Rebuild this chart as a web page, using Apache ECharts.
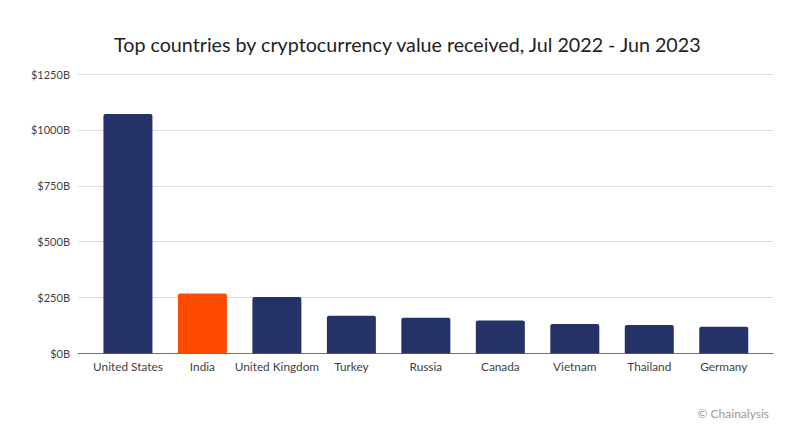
<!DOCTYPE html>
<html>
<head>
<meta charset="utf-8">
<title>Top countries by cryptocurrency value received</title>
<script src="https://cdn.jsdelivr.net/npm/echarts@6/dist/echarts.min.js"></script>
<style>
  html, body { margin: 0; padding: 0; background: #fff; }
  #chart { width: 809px; height: 446px; }
</style>
</head>
<body>
<div id="chart"></div>
<script>
const countries = ['United States', 'India', 'United Kingdom', 'Turkey', 'Russia', 'Canada', 'Vietnam', 'Thailand', 'Germany'];
const received = [1071, 268, 253, 169, 160, 148, 132, 127, 120]; // $ billions
const highlighted = 'India';

const navy = '#253268';
const orange = '#ff4b00';
const textColor = '#3f3f3f';
const font = 'Lato';

const chart = echarts.init(document.getElementById('chart'), null, { renderer: 'svg' });

chart.setOption({
  backgroundColor: '#ffffff',
  animation: false,
  textStyle: { fontFamily: font },
  title: {
    text: 'Top countries by cryptocurrency value received, Jul 2022 - Jun 2023',
    left: 114,
    top: 34,
    padding: 0,
    textStyle: { fontFamily: font, fontSize: 19.7, fontWeight: 'normal', color: '#222222' }
  },
  graphic: [{
    type: 'text',
    right: 40,
    top: 407,
    style: { text: '© Chainalysis', fontFamily: font, fontSize: 12, fill: '#9a9a9a' }
  }],
  // wide grid carries the gridlines and baseline, narrow grid carries the bars
  grid: [
    { left: 78, right: 36, top: 74, bottom: 92.5 },
    { left: 90.7, right: 48, top: 74, bottom: 92.5 }
  ],
  xAxis: [
    {
      gridIndex: 0,
      type: 'category',
      data: [''],
      axisTick: { show: false },
      axisLabel: { show: false },
      axisLine: { lineStyle: { color: '#6f6f6f', width: 1 } }
    },
    {
      gridIndex: 1,
      type: 'category',
      data: countries,
      axisTick: { show: false },
      axisLine: { show: false },
      axisLabel: { color: textColor, fontSize: 11.8, margin: 7, interval: 0 }
    }
  ],
  yAxis: [
    {
      gridIndex: 0,
      type: 'value',
      min: 0,
      max: 1250,
      interval: 250,
      axisLine: { show: false },
      axisTick: { show: false },
      axisLabel: { color: textColor, fontSize: 11, margin: 8, formatter: v => '$' + v + 'B' },
      splitLine: { lineStyle: { color: '#dddddd', width: 1 } }
    },
    {
      gridIndex: 1,
      type: 'value',
      min: 0,
      max: 1250,
      interval: 250,
      show: false
    }
  ],
  series: [{
    type: 'bar',
    xAxisIndex: 1,
    yAxisIndex: 1,
    barWidth: 49,
    data: received.map((v, i) => ({
      value: v,
      itemStyle: { color: countries[i] === highlighted ? orange : navy, borderRadius: [2, 2, 0, 0] }
    }))
  }]
});
</script>
</body>
</html>
